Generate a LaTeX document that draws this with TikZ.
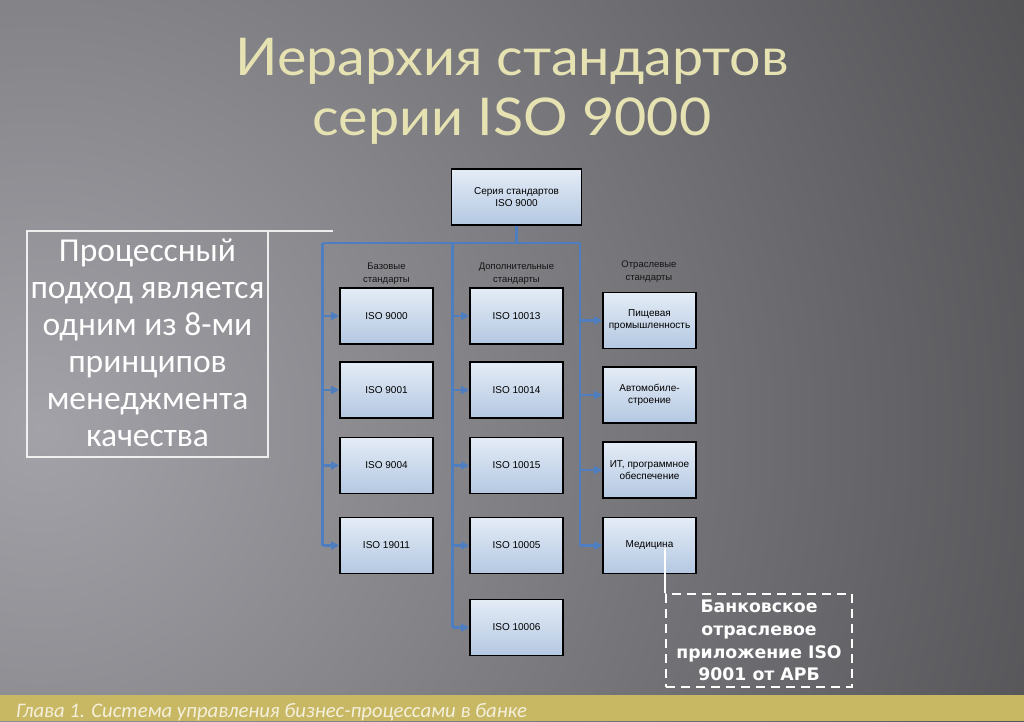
\documentclass[tikz,border=0pt]{standalone}
\usepackage{fontspec}
\setmainfont{Liberation Sans}
\newfontfamily\titlefont{Lato}
\newfontfamily\calfont{Carlito}
\newfontfamily\bankfont{DejaVu Sans}
\usetikzlibrary{arrows.meta,shadings}
\definecolor{bginner}{HTML}{A2A2A8}
\definecolor{bgouter}{HTML}{4E4E51}
\definecolor{busblue}{HTML}{4F7EC0}
\definecolor{boxtop}{HTML}{E4ECF6}
\definecolor{boxbot}{HTML}{B4C8E2}
\definecolor{titlecol}{HTML}{E6E2B2}
\definecolor{footcol}{HTML}{C8B763}
\definecolor{foottext}{HTML}{F4F0DC}
\definecolor{lblcol}{HTML}{151515}
\tikzset{
  stdbox/.style={draw=black, line width=1.6pt, top color=boxtop, bottom color=boxbot,
    minimum width=93pt, minimum height=56pt, inner sep=1pt, align=center,
    font=\fontsize{10}{12}\selectfont, text=black},
  busline/.style={draw=busblue, line width=2.8pt},
  busarrow/.style={draw=busblue, line width=2.8pt, -{Triangle[length=8pt,width=8pt]}},
  grplabel/.style={align=center, font=\fontsize{9.5}{13}\selectfont, text=lblcol},
  ttl/.style={font=\titlefont\fontsize{52}{56}\selectfont, anchor=base, xscale=1.07, inner sep=0},
}
\begin{document}
\begin{tikzpicture}[x=1pt,y=-1pt]
\useasboundingbox (0,0) rectangle (1024,721);
% background
\begin{scope}
\clip (0,0) rectangle (1024,721);
\fill[bgouter] (0,0) rectangle (1024,721);
\shade[inner color=bginner, outer color=bgouter] (40,430) circle (1150);
\end{scope}
% footer
\fill[footcol] (0,695) rectangle (1024,721);
\node[anchor=base west, inner sep=0, text=foottext, font=\calfont\itshape\fontsize{20.7}{24}\selectfont] (foot) at (16,717) {Глава 1. Система управления бизнес-процессами в банке};
% title
\node[ttl, text=titlecol] (t1) at (512,75) {Иерархия стандартов};
\node[ttl, text=titlecol] (t2) at (512,135) {серии ISO 9000};
% left text box
\draw[white, opacity=0.85, line width=1.2pt] (333,231) -- (27,231) -- (27,457) -- (268,457) -- (268,231);
\node[align=center, text=white, font=\calfont\fontsize{33.5}{37}\selectfont, inner sep=0] (proc) at (147.5,343) {Процессный\\подход является\\одним из 8-ми\\принципов\\менеджмента\\качества};
% top box
\node[stdbox, minimum width=130pt] (top) at (516.5,197) {Серия стандартов\\ISO 9000};
% group labels
\node[grplabel] (l1) at (386.5,274) {Базовые\\стандарты};
\node[grplabel] (l2) at (516.5,274) {Дополнительные\\стандарты};
\node[grplabel] (l3) at (649,272) {Отраслевые\\стандарты};
% column 1
\node[stdbox] (a1) at (386.5,316) {ISO 9000};
\node[stdbox] (a2) at (386.5,390) {ISO 9001};
\node[stdbox] (a3) at (386.5,465.5) {ISO 9004};
\node[stdbox] (a4) at (386.5,545.5) {ISO 19011};
% column 2
\node[stdbox] (b1) at (516.5,316) {ISO 10013};
\node[stdbox] (b2) at (516.5,390) {ISO 10014};
\node[stdbox] (b3) at (516.5,465.5) {ISO 10015};
\node[stdbox] (b4) at (516.5,545.5) {ISO 10005};
\node[stdbox] (b5) at (516.5,627.5) {ISO 10006};
% column 3
\node[stdbox] (c1) at (649.5,320.5) {Пищевая\\промышленность};
\node[stdbox] (c2) at (649.5,395) {Автомобиле-\\строение};
\node[stdbox] (c3) at (649.5,470) {ИТ, программное\\обеспечение};
\node[stdbox] (c4) at (649.5,545.5) {Медицина};
% bus
\coordinate (v1) at (322.5,243);
\coordinate (v2) at (452.5,243);
\coordinate (v3) at (580,243);
\draw[busline] (top.south) -- (top.south |- v1);
\draw[busline] (v1) -- (v3);
\draw[busline] (v1) -- (v1 |- a4.west);
\draw[busline] (v2) -- (v2 |- b5.west);
\draw[busline] (v3) -- (v3 |- c4.west);
\foreach \n in {a1,a2,a3,a4} \draw[busarrow] (v1 |- \n.west) -- (\n.west);
\foreach \n in {b1,b2,b3,b4,b5} \draw[busarrow] (v2 |- \n.west) -- (\n.west);
\foreach \n in {c1,c2,c3,c4} \draw[busarrow] (v3 |- \n.west) -- (\n.west);
% bank box
\node[draw=white, line width=2pt, dash pattern=on 9pt off 6pt, minimum width=186pt, minimum height=93pt,
  align=center, text=white, inner sep=2pt, font=\bankfont\bfseries\fontsize{17.3}{22.7}\selectfont] (bank) at (759,640.5)
  {Банковское\\отраслевое\\приложение ISO\\9001 от АРБ};
\draw[white, line width=2pt] ([yshift=-2.5pt]bank.north west |- c4.center) -- (bank.north west);
\end{tikzpicture}
\end{document}
